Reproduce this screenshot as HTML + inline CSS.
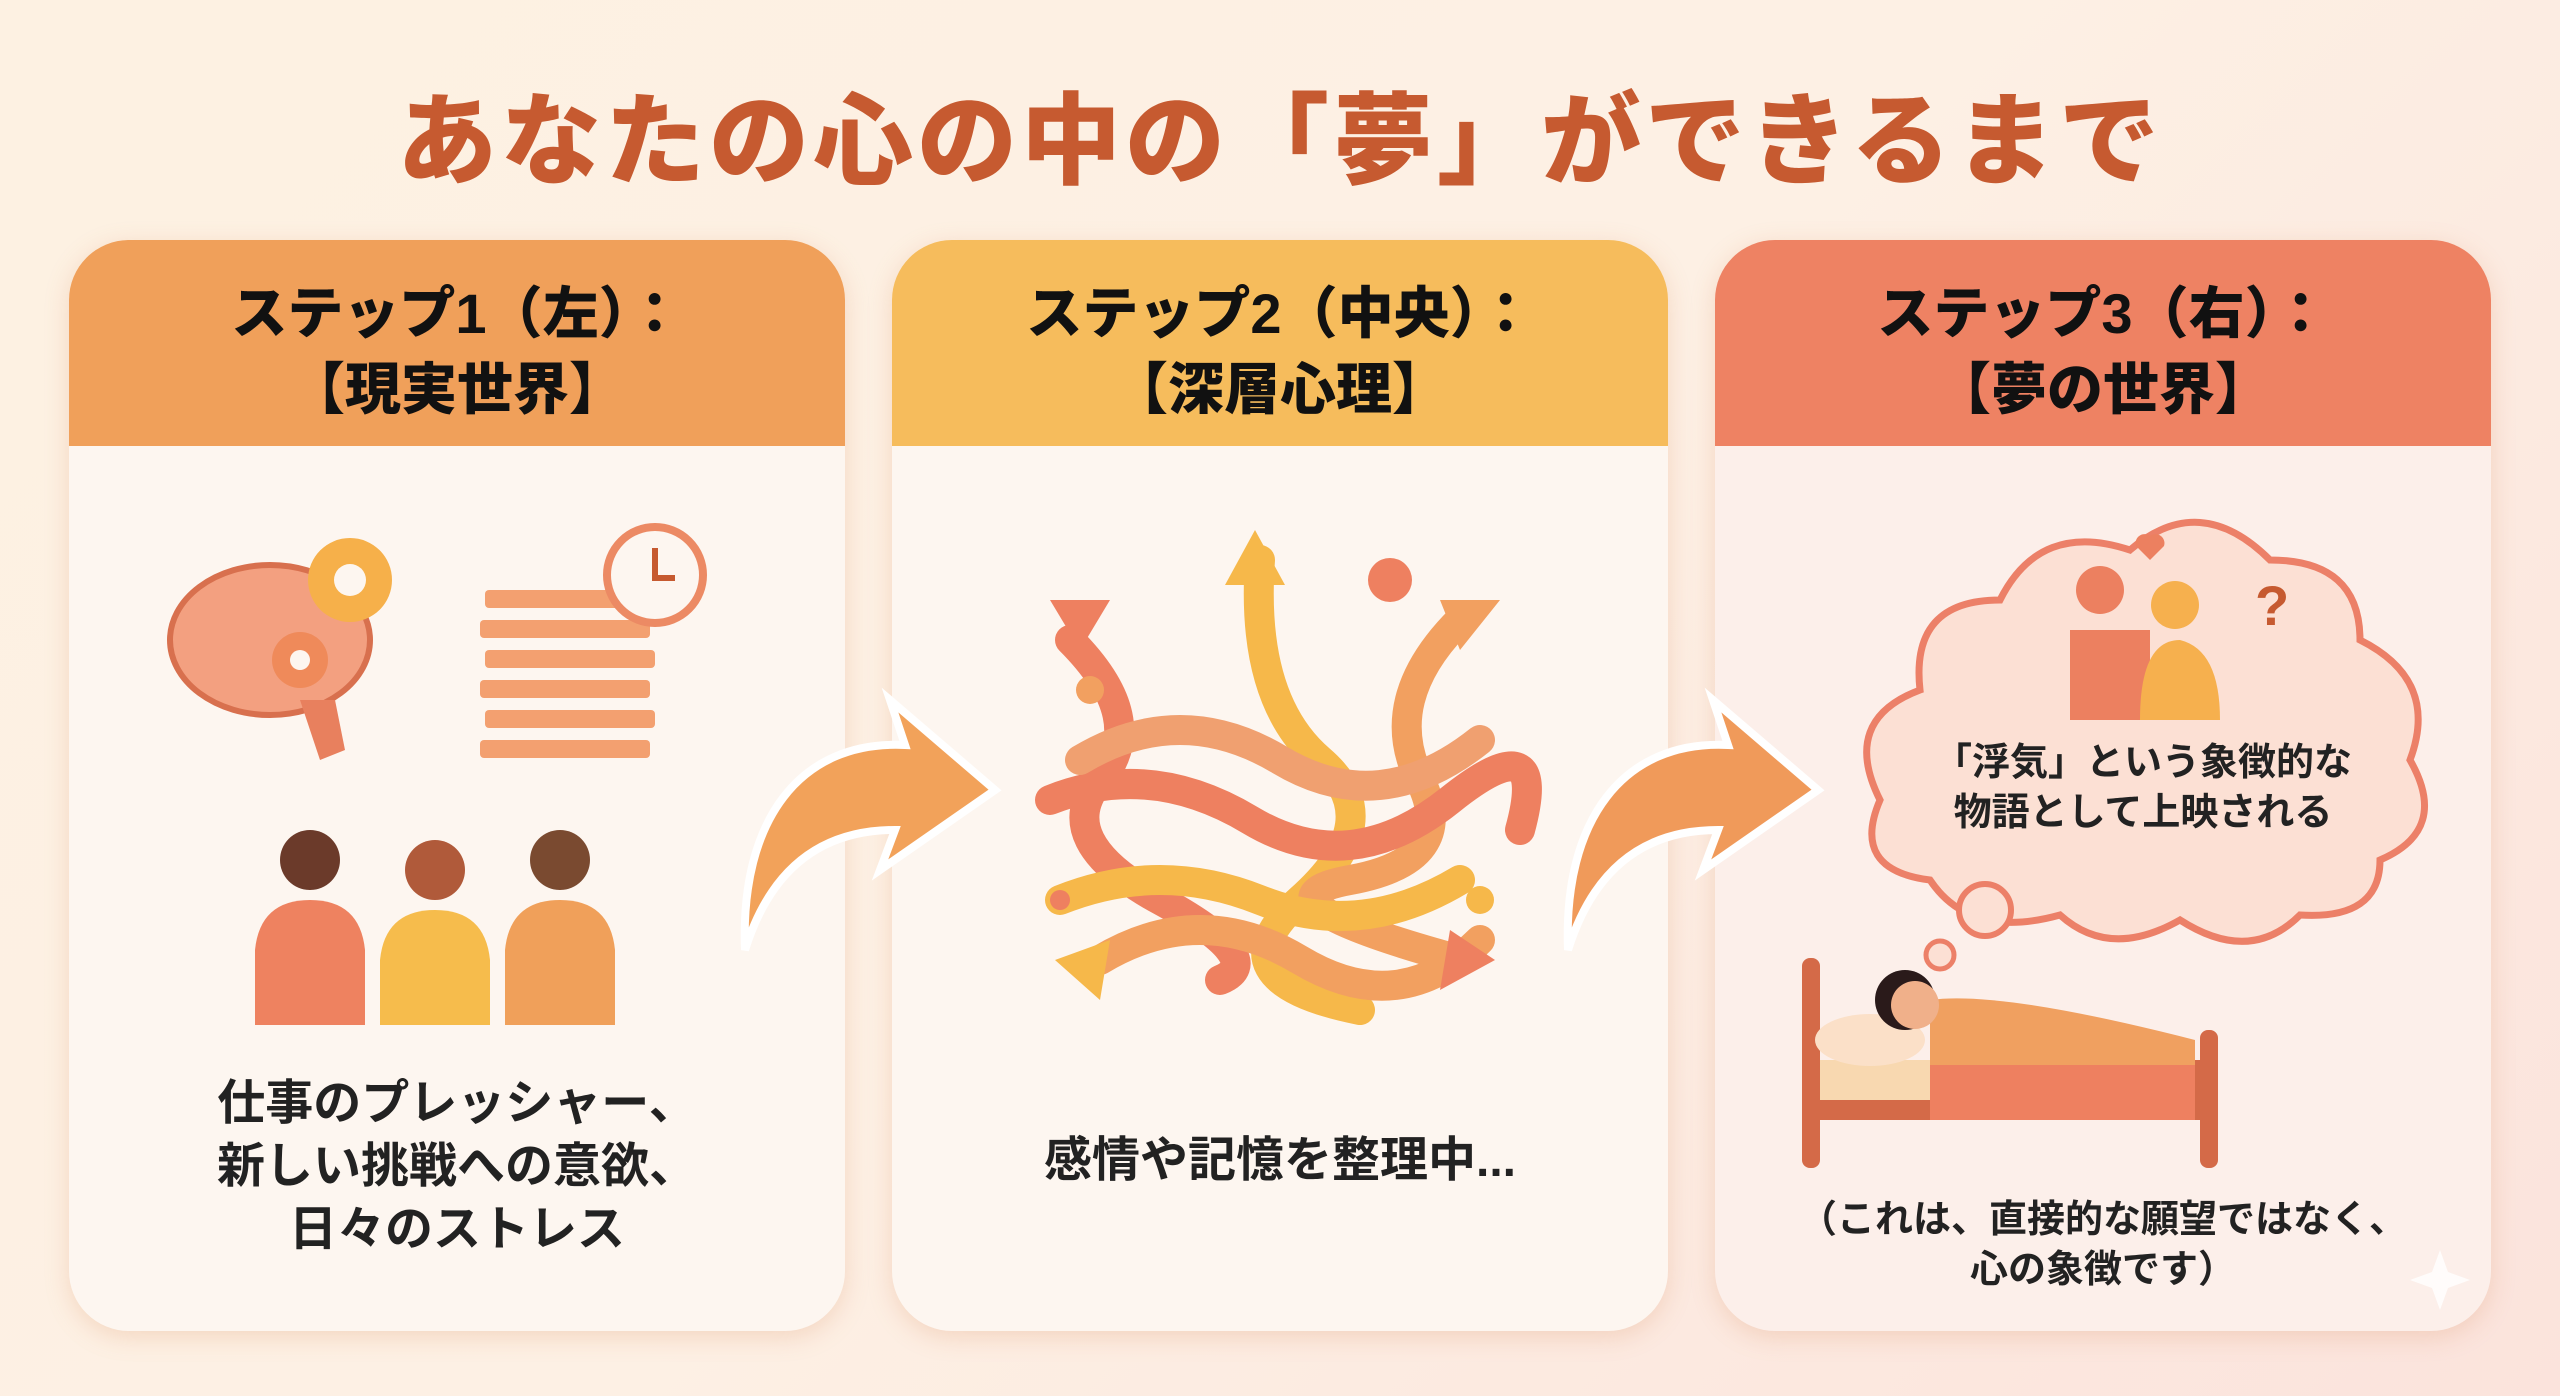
<!DOCTYPE html>
<html><head><meta charset="utf-8"><style>
html,body{margin:0;padding:0}
body{width:2560px;height:1396px;overflow:hidden;background:linear-gradient(135deg,#fdf1e2 0%,#fdf0e4 50%,#fbe3dc 100%);font-family:"Liberation Sans","Noto Sans CJK JP",sans-serif;position:relative}
.t{position:absolute;left:0;width:2560px;top:60px;text-align:center;font-size:100px;font-weight:900;color:#c65a30;letter-spacing:4px}
.p{position:absolute;top:240px;height:1091px;width:776px;border-radius:60px;background:#fdf6f0;box-shadow:0 6px 24px rgba(220,140,90,.25);overflow:hidden}
.h{height:206px;text-align:center;font-size:56px;font-weight:900;color:#111;line-height:76px;padding-top:36px;box-sizing:border-box}
.x{position:absolute;left:0;width:100%;text-align:center;font-weight:700;color:#222;z-index:5}
svg{position:absolute;left:0;top:0;z-index:1}
.tx{position:absolute;text-align:center;font-weight:700;color:#222;z-index:5}
</style></head><body>
<div class="t">あなたの心の中の「夢」ができるまで</div>
<div class="p" style="left:69px"><div class="h" style="background:#f0a05a">ステップ1（左）：<br>【現実世界】</div>
<div class="x" style="top:832px;font-size:48px;line-height:63px">仕事のプレッシャー、<br>新しい挑戦への意欲、<br>日々のストレス</div></div>
<div class="p" style="left:892px"><div class="h" style="background:#f6bc5c">ステップ2（中央）：<br>【深層心理】</div>
<div class="x" style="top:880px;font-size:48px">感情や記憶を整理中...</div></div>
<div class="p" style="left:1715px;background:#fcefea"><div class="h" style="background:#ee8263">ステップ3（右）：<br>【夢の世界】</div>
<div class="x" style="top:955px;font-size:38px;line-height:50px">（これは、直接的な願望ではなく、<br>心の象徴です）</div></div>
<svg width="2560" height="1396">
<g>
<path d="M745 950 C740 820 800 740 905 745 L890 700 L995 790 L880 870 L895 830 C820 830 770 870 745 950Z" fill="#f2a25a" stroke="#fff" stroke-width="8"/>
<path d="M1568 950 C1563 820 1623 740 1728 745 L1713 700 L1818 790 L1703 870 L1718 830 C1643 830 1593 870 1568 950Z" fill="#f09a5a" stroke="#fff" stroke-width="8"/>
</g>
<g>
<ellipse cx="270" cy="640" rx="100" ry="75" fill="#f3a080" stroke="#d8704e" stroke-width="6"/>
<path d="M300 700 L320 760 L345 750 L335 700Z" fill="#e8805e"/>
<circle cx="350" cy="580" r="42" fill="#f6b04a"/><circle cx="350" cy="580" r="16" fill="#fdf6f0"/>
<circle cx="300" cy="660" r="28" fill="#ef8a5a"/><circle cx="300" cy="660" r="10" fill="#fdf6f0"/>
<g fill="#f3a070"><rect x="485" y="590" width="170" height="18" rx="4"/><rect x="480" y="620" width="170" height="18" rx="4"/><rect x="485" y="650" width="170" height="18" rx="4"/><rect x="480" y="680" width="170" height="18" rx="4"/><rect x="485" y="710" width="170" height="18" rx="4"/><rect x="480" y="740" width="170" height="18" rx="4"/></g>
<circle cx="655" cy="575" r="48" fill="#fdf6f0" stroke="#ec8a64" stroke-width="8"/>
<path d="M655 548 V578 H675" stroke="#c65a30" stroke-width="6" fill="none"/>
<circle cx="310" cy="860" r="30" fill="#6b3a2a"/><path d="M255 1025 V950 Q260 900 310 900 Q360 900 365 950 V1025Z" fill="#ee8260"/>
<circle cx="435" cy="870" r="30" fill="#b05a3a"/><path d="M380 1025 V960 Q385 910 435 910 Q485 910 490 960 V1025Z" fill="#f6bc4c"/>
<circle cx="560" cy="860" r="30" fill="#7a4a30"/><path d="M505 1025 V950 Q510 900 560 900 Q610 900 615 950 V1025Z" fill="#f0a05a"/>
</g>
<g fill="none" stroke-width="30" stroke-linecap="round">
<path d="M1070 640 Q1150 720 1100 780 T1160 900 T1220 980" stroke="#ee8060"/>
<path d="M1260 560 Q1250 700 1320 760 T1300 900 T1360 1010" stroke="#f6b84a"/>
<path d="M1460 620 Q1380 700 1420 780 T1350 880 T1460 960" stroke="#f2a060"/>
<path d="M1050 800 Q1150 760 1250 820 T1450 800 T1520 830" stroke="#ee8060"/>
<path d="M1060 900 Q1160 860 1260 900 T1460 880" stroke="#f6b84a"/>
<path d="M1080 760 Q1180 700 1280 760 T1480 740" stroke="#f0a070"/>
<path d="M1100 960 Q1200 900 1300 960 T1480 940" stroke="#f2a060"/>
</g>
<g><polygon points="1255,530 1225,585 1285,585" fill="#f6b84a"/><polygon points="1050,600 1110,600 1080,650" fill="#ee8060"/><polygon points="1500,600 1460,650 1440,600" fill="#f2a060"/><polygon points="1055,960 1100,1000 1110,940" fill="#f6b84a"/><polygon points="1495,960 1440,990 1450,930" fill="#ee8060"/>
<circle cx="1390" cy="580" r="22" fill="#ee8060"/><circle cx="1090" cy="690" r="14" fill="#f2a060"/><circle cx="1480" cy="900" r="14" fill="#f6b84a"/><circle cx="1060" cy="900" r="10" fill="#ee8060"/></g>
<path d="M1930 880 Q1850 870 1880 800 Q1840 720 1920 690 Q1910 600 2000 600 Q2040 520 2130 550 Q2200 490 2270 560 Q2360 560 2360 640 Q2440 680 2410 760 Q2450 830 2380 860 Q2380 920 2300 915 Q2250 965 2180 920 Q2110 960 2060 915 Q1970 940 1930 880Z" fill="#fce0d4" stroke="#ec8068" stroke-width="7"/>
<circle cx="1985" cy="910" r="26" fill="#fce0d4" stroke="#ec8068" stroke-width="6"/>
<circle cx="1940" cy="955" r="14" fill="#fce0d4" stroke="#ec8068" stroke-width="5"/>
<circle cx="2100" cy="590" r="24" fill="#ec8060"/><path d="M2070 720 V630 H2150 L2150 720Z" fill="#ec8060"/>
<circle cx="2175" cy="605" r="24" fill="#f6b04e"/><path d="M2140 720 Q2140 640 2180 640 Q2220 650 2220 720Z" fill="#f6b04e"/>
<path d="M2150 560 l-14 -14 a9 9 0 0 1 14 -10 a9 9 0 0 1 14 10z" fill="#ec8060"/>
<text x="2255" y="625" font-size="56" font-weight="700" fill="#c65a30" font-family="Liberation Sans">?</text>
<rect x="1802" y="958" width="18" height="210" rx="8" fill="#d46a48"/>
<rect x="2200" y="1030" width="18" height="138" rx="8" fill="#d46a48"/>
<rect x="1820" y="1060" width="380" height="60" fill="#d46a48"/>
<rect x="1820" y="1060" width="110" height="40" fill="#f8d8b0"/>
<path d="M1930 1000 Q2000 990 2195 1040 V1120 H1930Z" fill="#f0a060"/>
<rect x="1930" y="1065" width="265" height="55" fill="#ee8060"/>
<ellipse cx="1870" cy="1040" rx="55" ry="26" fill="#fbe0c8"/>
<circle cx="1905" cy="1000" r="30" fill="#2a1a1a"/><circle cx="1915" cy="1005" r="24" fill="#f0b08a"/>
<path d="M2440 1250 l8 22 22 8 -22 8 -8 22 -8 -22 -22 -8 22 -8z" fill="#fff" opacity=".8"/>
</svg>
<div class="tx" style="left:1755px;width:776px;top:738px;font-size:38px;line-height:50px">「浮気」という象徴的な<br>物語として上映される</div>
</body></html>
